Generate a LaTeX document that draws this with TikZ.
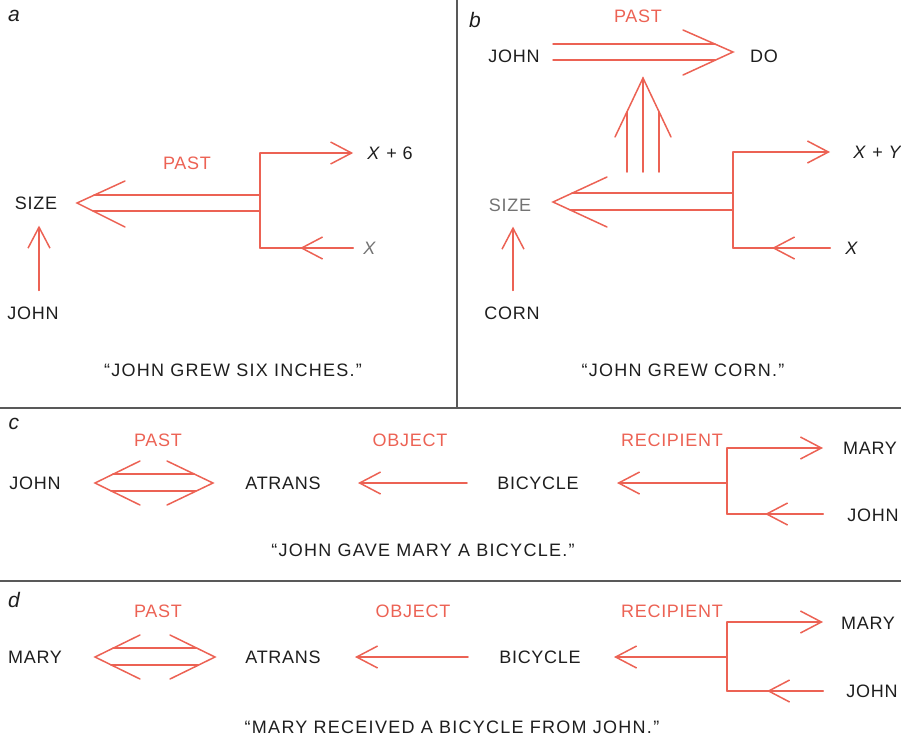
\documentclass[tikz,border=0pt]{standalone}
\usepackage{fontspec}
\setmainfont{Liberation Sans}[LetterSpace=4]
\usetikzlibrary{arrows.meta}
\definecolor{cdred}{RGB}{236,98,84}
\definecolor{ink}{RGB}{30,30,30}
\tikzset{
  cd/.style={draw=cdred, line width=1.5pt, line cap=round},
  barb/.style={-{Straight Barb[length=21pt,width=22pt,line width=1.5pt]}},
  word/.style={text=ink, inner sep=0pt, font=\fontsize{18}{20}\selectfont},
  rword/.style={word, text=cdred},
  caption/.style={word, font=\fontsize{18}{20}\selectfont\addfontfeature{LetterSpace=7}},
  panel/.style={word, font=\fontsize{21}{22}\selectfont\itshape},
  rule/.style={draw=black!65, line width=1.4pt}
}

\begin{document}
\begin{tikzpicture}[x=1pt,y=-1pt]
\useasboundingbox (0,0) rectangle (901,753);

% frame rules
\draw[rule] (457,0) -- (457,408);
\draw[rule] (0,408) -- (901,408);
\draw[rule] (0,581) -- (901,581);

% (a) john grew six inches
\node[panel] (la) at (14,16) {a};
\node[word] (sizeA) at (36,203) {SIZE};
\node[word] (johnA) at (33,313) {JOHN};
\node[rword] (pastA) at (187,163) {PAST};
\node[word] (xsixA) at (390,153) {\textit{X} + 6};
\node[word, text=black!55] (xA) at (370,248) {\textit{X}};
\node[caption] (capA) at (233,370) {“JOHN GREW SIX INCHES.”};
\coordinate (barAt) at (260,153);
\coordinate (barAb) at (260,248);
\draw[cd] (barAt) -- (barAb);
\draw[cd] (260,195) -- (94,195) (260,211) -- (93,211);
\draw[cd] (125,181) -- (77,203) -- (125,227);
\draw[cd,barb] (barAt) -- ([xshift=-14pt]xsixA.west);
\draw[cd] (barAb) -- (353,248);
\draw[cd,barb] (353,248) -- (300,248);
\draw[cd,barb] ([xshift=6pt,yshift=16pt]johnA.north) -- ([xshift=3pt,yshift=-16pt]sizeA.south);

% (b) john grew corn
\node[panel] (lb) at (475,20) {b};
\node[rword] (pastB) at (638,16) {PAST};
\node[word] (johnB) at (514,56) {JOHN};
\node[word] (doB) at (764,56) {DO};
\node[word, text=black!55] (sizeB) at (510,205) {SIZE};
\node[word] (cornB) at (512,313) {CORN};
\node[word] (xyB) at (878,152) {\textit{X} + \textit{Y}};
\node[word] (xB) at (852,248) {\textit{X}};
\node[caption] (capB) at (683,370) {“JOHN GREW CORN.”};
% john => do
\draw[cd] (553,44) -- (715,44) (553,60) -- (715,60);
\draw[cd] (683,30) -- (733,52) -- (683,75);
% causal link
\draw[cd] (643,172) -- (643,78) (627,172) -- (627,112) (659,172) -- (659,112);
\draw[cd] (615,137) -- (643,78) -- (671,137);
% size <= x + y / x
\coordinate (barBt) at (733,152);
\coordinate (barBb) at (733,248);
\draw[cd] (barBt) -- (barBb);
\draw[cd] (733,193) -- (572,193) (733,210) -- (570,210);
\draw[cd] (607,177) -- (553,202) -- (607,227);
\draw[cd,barb] (barBt) -- (830,152);
\draw[cd] (barBb) -- (830,248);
\draw[cd,barb] (830,248) -- (772,248);
\draw[cd,barb] ([xshift=1pt,yshift=16pt]cornB.north) -- ([xshift=3pt,yshift=-15pt]sizeB.south);

% (c) john gave mary a bicycle
\node[panel] (lc) at (14,424) {c};
\node[rword] (pastC) at (158,440) {PAST};
\node[word] (johnC) at (35,483) {JOHN};
\node[word] (atransC) at (283,483) {ATRANS};
\node[rword] (objC) at (410,440) {OBJECT};
\node[word] (bikeC) at (538,483) {BICYCLE};
\node[rword] (recC) at (672,440) {RECIPIENT};
\node[word] (toC) at (870,448) {MARY};
\node[word] (fromC) at (873,515) {JOHN};
\node[caption] (capC) at (423,550) {“JOHN GAVE MARY A BICYCLE.”};
\draw[cd] (113,474) -- (194,474) (111,491) -- (196,491);
\draw[cd] (140,461) -- (95,483) -- (140,505);
\draw[cd] (167,461) -- (213,483) -- (167,505);
\draw[cd,barb] (467,483) -- (358,483);
\coordinate (barCt) at (727,448);
\coordinate (barCb) at (727,514);
\draw[cd] (barCt) -- (barCb);
\draw[cd,barb] (727,483) -- (617,483);
\draw[cd,barb] (barCt) -- (823,448);
\draw[cd] (barCb) -- (823,514);
\draw[cd,barb] (823,514) -- (765,514);

% (d) mary received a bicycle from john
\node[panel] (ld) at (14,600) {d};
\node[rword] (pastD) at (158,611) {PAST};
\node[word] (maryD) at (35,657) {MARY};
\node[word] (atransD) at (283,657) {ATRANS};
\node[rword] (objD) at (413,611) {OBJECT};
\node[word] (bikeD) at (540,657) {BICYCLE};
\node[rword] (recD) at (672,611) {RECIPIENT};
\node[word] (toD) at (868,623) {MARY};
\node[word] (fromD) at (872,691) {JOHN};
\node[caption] (capD) at (452,727) {“MARY RECEIVED A BICYCLE FROM JOHN.”};
\draw[cd] (113,648) -- (196,648) (111,665) -- (198,665);
\draw[cd] (140,635) -- (95,657) -- (140,679);
\draw[cd] (170,635) -- (215,657) -- (170,679);
\draw[cd,barb] (468,657) -- (355,657);
\coordinate (barDt) at (727,622);
\coordinate (barDb) at (727,691);
\draw[cd] (barDt) -- (barDb);
\draw[cd,barb] (727,657) -- (614,657);
\draw[cd,barb] (barDt) -- (823,622);
\draw[cd] (barDb) -- (823,691);
\draw[cd,barb] (823,691) -- (767,691);
\end{tikzpicture}
\end{document}
